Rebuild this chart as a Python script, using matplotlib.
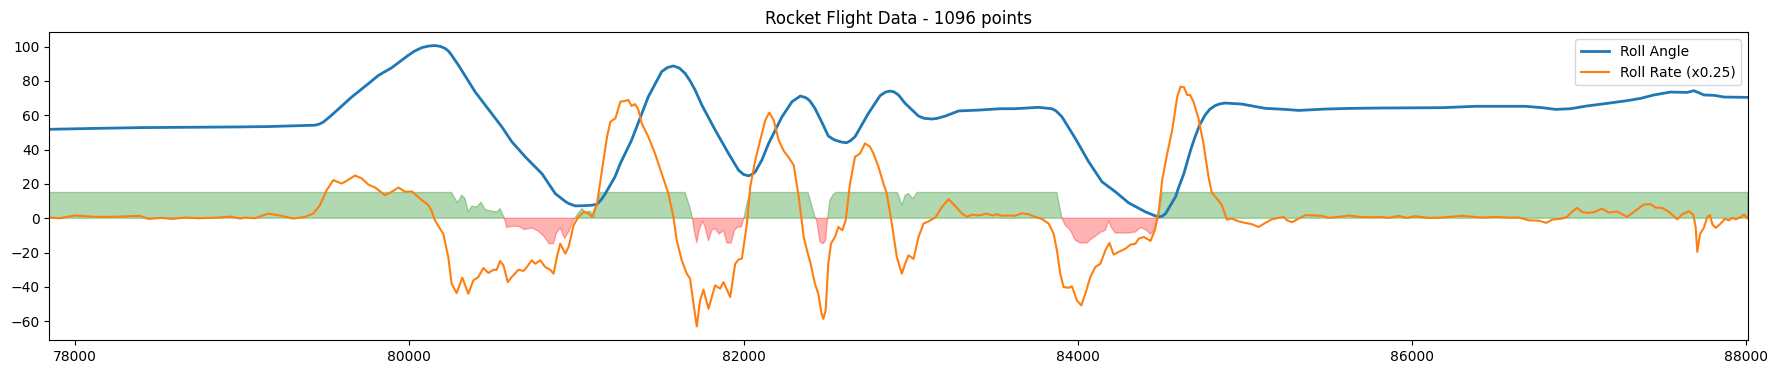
import numpy as np
import matplotlib
matplotlib.use("Agg")
import matplotlib.pyplot as plt

# roll angle (deg)
angle_t = [77846, 78100, 78400, 78700, 78990, 79155, 79435, 79460, 79485, 79520,
           79555, 79655, 79755, 79815, 79895, 79995, 80030, 80075, 80115, 80153,
           80185, 80213, 80235, 80253, 80270, 80293, 80393, 80493, 80553, 80613,
           80693, 80793, 80873, 80930, 80953, 80993, 81040, 81093, 81123, 81150,
           81173, 81230, 81263, 81330, 81430, 81510, 81545, 81580, 81615, 81650,
           81680, 81710, 81750, 81830, 81910, 81970, 82000, 82030, 82050, 82070,
           82110, 82150, 82230, 82290, 82340, 82370, 82390, 82400, 82427, 82467,
           82507, 82540, 82567, 82590, 82617, 82640, 82667, 82747, 82817, 82850,
           82877, 82900, 82927, 82967, 83047, 83080, 83127, 83160, 83207, 83287,
           83407, 83537, 83625, 83765, 83845, 83870, 83905, 83985, 84065, 84145,
           84225, 84305, 84405, 84460, 84485, 84505, 84525, 84585, 84600, 84635,
           84675, 84702, 84730, 84762, 84790, 84822, 84850, 84882, 84982, 85122,
           85242, 85322, 85482, 85642, 85812, 86179, 86379, 86679, 86779, 86859,
           86949, 87047, 87167, 87287, 87367, 87447, 87547, 87647, 87687, 87747,
           87807, 87867, 88010]
angle = [51.8, 52.3, 52.8, 53.0, 53.2, 53.4, 54.2, 54.8, 56.0, 58.8,
         61.8, 70.6, 78.4, 83.2, 87.7, 95.0, 97.3, 99.4, 100.3, 100.6,
         100.1, 99.0, 97.3, 95.0, 92.5, 89.3, 73.7, 61.0, 53.3, 44.6,
         35.8, 26.0, 14.4, 10.0, 8.6, 7.2, 7.3, 7.6, 8.2, 11.0,
         14.4, 24.0, 32.0, 45.5, 70.8, 85.4, 87.8, 88.7, 87.5, 84.4,
         80.0, 74.7, 66.0, 51.4, 37.7, 28.0, 25.5, 24.7, 25.5, 27.0,
         34.0, 43.6, 59.1, 67.9, 71.2, 70.3, 69.0, 67.9, 64.0, 56.2,
         47.9, 45.8, 44.9, 44.3, 44.0, 45.2, 47.5, 61.1, 71.4, 73.5,
         74.1, 73.6, 71.8, 66.9, 59.5, 58.2, 57.8, 58.2, 59.5, 62.5,
         63.0, 63.8, 63.8, 64.6, 63.8, 62.5, 59.1, 46.5, 32.9, 21.2,
         15.4, 8.9, 3.7, 1.5, 0.8, 1.2, 2.7, 12.5, 17.0, 26.1,
         39.7, 47.5, 54.5, 60.1, 63.5, 65.6, 66.6, 67.1, 66.5, 64.0,
         63.4, 62.8, 63.6, 64.0, 64.2, 64.4, 65.2, 65.2, 64.4, 63.4,
         63.8, 65.4, 66.9, 68.5, 69.8, 71.8, 73.5, 73.3, 74.3, 71.8,
         71.6, 70.6, 70.4]

# roll rate scaled by 0.25
rate_t = [77846, 77908, 77998, 78118, 78218, 78388, 78438, 78518, 78578, 78658,
          78738, 78858, 78928, 78988, 79015, 79075, 79155, 79235, 79305, 79375,
          79425, 79465, 79505, 79545, 79595, 79625, 79675, 79715, 79755, 79795,
          79855, 79895, 79935, 79975, 80015, 80075, 80110, 80130, 80153, 80183,
          80203, 80233, 80253, 80283, 80317, 80353, 80383, 80413, 80443, 80473,
          80503, 80523, 80543, 80563, 80589, 80613, 80653, 80683, 80703, 80733,
          80753, 80783, 80813, 80843, 80863, 80883, 80903, 80933, 80953, 80983,
          81009, 81043, 81073, 81093, 81123, 81153, 81183, 81203, 81233, 81263,
          81290, 81310, 81330, 81350, 81370, 81390, 81430, 81470, 81510, 81550,
          81580, 81600, 81630, 81660, 81680, 81700, 81720, 81740, 81760, 81790,
          81830, 81860, 81880, 81920, 81950, 81970, 81990, 82020, 82040, 82070,
          82100, 82130, 82154, 82180, 82210, 82240, 82270, 82300, 82330, 82360,
          82380, 82400, 82427, 82447, 82467, 82477, 82491, 82507, 82523, 82547,
          82567, 82591, 82611, 82637, 82667, 82697, 82727, 82757, 82777, 82807,
          82837, 82857, 82887, 82917, 82947, 82967, 82987, 83017, 83047, 83077,
          83107, 83147, 83187, 83227, 83267, 83307, 83337, 83367, 83407, 83457,
          83487, 83517, 83545, 83585, 83625, 83665, 83705, 83745, 83785, 83825,
          83855, 83875, 83895, 83915, 83945, 83965, 83995, 84021, 84045, 84075,
          84105, 84135, 84165, 84189, 84215, 84245, 84285, 84315, 84345, 84365,
          84395, 84435, 84461, 84485, 84505, 84535, 84565, 84595, 84615, 84635,
          84655, 84672, 84692, 84722, 84752, 84782, 84802, 84832, 84862, 84892,
          84922, 84962, 85002, 85042, 85082, 85122, 85162, 85202, 85232, 85252,
          85282, 85322, 85362, 85422, 85462, 85502, 85562, 85622, 85682, 85762,
          85812, 85859, 85919, 85969, 86019, 86099, 86179, 86299, 86419, 86499,
          86579, 86639, 86699, 86759, 86803, 86839, 86899, 86927, 86957, 86987,
          87017, 87047, 87087, 87137, 87177, 87227, 87287, 87327, 87357, 87387,
          87427, 87457, 87497, 87537, 87587, 87617, 87657, 87683, 87697, 87707,
          87723, 87747, 87767, 87783, 87797, 87817, 87847, 87871, 87897, 87917,
          87937, 87957, 87987, 88010]
rate = [0.4, 0.0, 1.6, 0.8, 0.8, 1.4, -0.4, 0.2, -0.4, 0.4,
        0.0, 0.4, 1.0, -0.2, 0.4, 0.0, 2.7, 1.4, -0.2, 0.8,
        2.7, 7.6, 16.3, 22.2, 20.2, 21.8, 24.9, 23.2, 19.6, 17.9,
        13.4, 15.4, 17.9, 15.4, 15.6, 10.5, 8.0, 5.0, -1.2, -6.0,
        -9.0, -22.6, -38.1, -43.6, -34.6, -44.0, -36.2, -34.2, -29.0, -31.9,
        -30.0, -30.0, -24.9, -27.4, -37.2, -34.2, -30.0, -30.7, -28.4, -24.5,
        -26.5, -24.5, -28.4, -30.0, -32.3, -22.6, -14.8, -20.6, -16.7, -4.1,
        0.4, 3.7, 2.7, 0.8, 8.6, 28.0, 47.5, 56.2, 58.2, 67.9,
        68.3, 68.9, 65.4, 66.5, 63.4, 55.3, 47.5, 37.7, 26.1, 14.4,
        0.8, -12.8, -24.5, -32.3, -35.2, -49.6, -63.0, -47.9, -41.6, -52.7,
        -39.1, -41.0, -37.2, -45.9, -26.5, -24.1, -23.5, -3.1, 18.3, 33.9,
        45.5, 57.2, 61.5, 57.2, 45.5, 39.3, 35.4, 30.9, 12.5, -11.0,
        -19.0, -26.0, -38.1, -44.0, -55.6, -58.6, -53.7, -26.5, -14.8, -10.9,
        -5.1, -7.0, -1.2, 20.2, 35.8, 37.7, 43.6, 41.6, 37.7, 30.0,
        20.2, 14.4, -3.1, -22.6, -32.3, -26.5, -21.6, -23.7, -10.9, -3.1,
        -1.8, 0.4, 6.6, 11.1, 7.0, 2.7, 0.8, 2.1, 1.6, 2.7,
        1.6, 2.3, 1.4, 1.6, 1.4, 2.9, 2.3, 0.8, -0.4, -3.1,
        -8.9, -18.7, -32.3, -40.1, -40.5, -39.7, -47.9, -50.8, -44.0, -34.2,
        -28.4, -26.5, -18.7, -14.4, -21.2, -19.6, -17.7, -15.4, -14.8, -11.9,
        -10.9, -13.2, -7.0, 4.7, 22.2, 37.7, 51.4, 70.8, 76.7, 76.3,
        71.8, 71.8, 67.9, 58.2, 43.6, 24.1, 14.8, 11.5, 7.6, -0.8,
        -0.2, -1.8, -2.7, -3.5, -5.1, -2.7, -0.6, 0.2, 0.8, -1.2,
        -2.3, -0.2, 1.8, 1.6, 1.4, 0.2, 0.8, 1.6, 0.8, 0.6,
        0.8, 0.2, 1.4, 0.2, 1.2, 0.2, 0.4, 1.4, 0.4, 0.8,
        0.4, 0.4, -1.2, -1.4, -2.7, -0.8, -0.2, 0.8, 3.7, 6.0,
        3.7, 3.1, 3.5, 5.6, 3.3, 3.9, 0.8, 3.7, 5.8, 8.0,
        8.2, 6.2, 6.0, 3.7, -0.6, 2.3, 4.1, 2.1, -5.1, -19.6,
        -9.3, -5.4, 0.8, 1.8, -3.5, -5.6, -3.1, -0.4, -1.2, 0.2,
        -0.6, 0.2, 2.1, -0.2]

# band indicator, clipped at +/-15
band_t = [77846, 80253, 80273, 80289, 80313, 80333, 80353, 80373, 80403, 80429,
          80453, 80493, 80523, 80543, 80567, 80583, 80613, 80653, 80689, 80733,
          80773, 80803, 80837, 80863, 80879, 80903, 80929, 80953, 80983, 81009,
          81033, 81053, 81083, 81103, 81123, 81143, 81650, 81680, 81694, 81704,
          81720, 81734, 81754, 81770, 81790, 81810, 81830, 81854, 81880, 81900,
          81926, 81946, 81966, 81986, 82002, 82020, 82040, 82386, 82407, 82427,
          82437, 82457, 82477, 82491, 82503, 82517, 82537, 82551, 82921, 82947,
          82967, 82987, 83011, 83027, 83037, 83875, 83905, 83925, 83955, 83985,
          84015, 84055, 84075, 84105, 84135, 84165, 84185, 84205, 84225, 84305,
          84345, 84375, 84405, 84435, 84461, 84481, 84505, 88010]
band = [15, 15, 11.5, 9.0, 13.4, 11.5, 3.7, 7.0, 6.6, 9.3,
        5.1, 4.1, 3.7, 5.6, 0.4, -5.4, -4.7, -4.7, -6.6, -5.6,
        -7.6, -10.3, -14.8, -14.8, -8.9, -5.6, -11.9, -8.0, -1.2, 2.7,
        5.6, 3.7, 4.1, 0.8, 8.6, 15, 15, 6.0, 0.0, -7.0,
        -14.2, -7.0, -1.6, -5.1, -13.2, -7.0, -6.0, -9.3, -7.0, -14.4,
        -14.4, -7.0, -5.1, -5.1, 0.0, 8.6, 15, 15, 7.6, 0.8,
        -1.0, -13.8, -14.8, -12.8, 0.0, 10.5, 14.0, 15, 15, 7.6,
        13.4, 14.4, 11.5, 13.2, 15, 15, 0.0, -4.1, -7.0, -12.8,
        -14.4, -14.4, -12.5, -10.5, -8.2, -7.0, -1.6, -6.0, -8.6, -8.6,
        -8.0, -5.4, -6.6, -9.3, -6.6, 0.0, 15, 15]

n_points = 1096

fig = plt.figure(figsize=(17.76, 3.74), dpi=100)
ax = fig.add_axes([0.0278, 0.0901, 0.9564, 0.8235])

bt = np.array(band_t)
bv = np.array(band)
ax.fill_between(bt, 0, bv, where=bv >= 0, color='green', alpha=0.3, interpolate=True)
ax.fill_between(bt, 0, bv, where=bv <= 0, color='red', alpha=0.3, interpolate=True)

ax.plot(angle_t, angle, color='#1f77b4', linewidth=2, label='Roll Angle')
ax.plot(rate_t, rate, color='#ff7f0e', linewidth=1.5, label='Roll Rate (x0.25)')

ax.set_xlim(angle_t[0], angle_t[-1])
ax.set_ylim(-71.1, 108.3)
ax.set_title('Rocket Flight Data - %d points' % n_points)
ax.legend(loc='upper right')

fig.savefig('out.png', dpi=100)
